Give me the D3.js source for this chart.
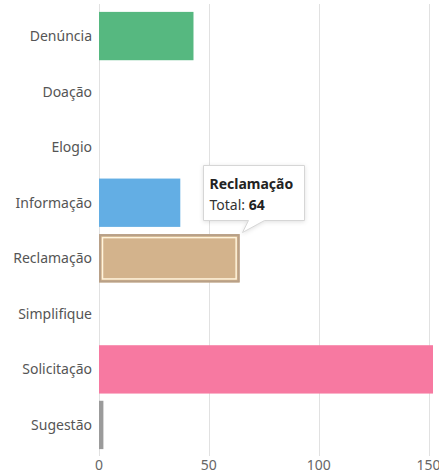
<!DOCTYPE html>
<meta charset="utf-8">
<style>
  body { margin: 0; background: #fff; font-family: "Noto Sans", "Open Sans", sans-serif; }
</style>
<div id="chart"></div>
<script src="https://d3js.org/d3.v7.min.js"></script>
<script>
// categories and totals
var categories = ["Denúncia", "Doação", "Elogio", "Informação", "Reclamação", "Simplifique", "Solicitação", "Sugestão"];
var totals = [43, 0, 0, 37, 64, 0, 152, 2];
var colors = ["#56b880", "#999999", "#999999", "#63aee4", "#d3b38c", "#999999", "#f779a1", "#9b9b9b"];
var xTicks = [0, 50, 100, 150];
var hovered = "Reclamação";

var width = 439, height = 474;
var plotLeft = 99, plotRight = 433, plotTop = 8, plotBottom = 453;

var svg = d3.select("#chart").append("svg")
  .attr("width", width)
  .attr("height", height);

var x = d3.scaleLinear().domain([0, 152]).range([plotLeft, plotRight]);
var y = d3.scaleBand().domain(categories).range([plotTop, plotBottom]).paddingInner(0.13).paddingOuter(0.07);

// grid lines
svg.selectAll("line.grid").data(xTicks).enter().append("line")
  .attr("class", "grid")
  .attr("x1", function(d) { return Math.round(x(d)) + 0.5; })
  .attr("x2", function(d) { return Math.round(x(d)) + 0.5; })
  .attr("y1", 4).attr("y2", 456)
  .style("stroke", "#e1e1e1").style("stroke-width", 1);

// x tick labels
svg.selectAll("text.xt").data(xTicks).enter().append("text")
  .attr("x", function(d) { return x(d); })
  .attr("y", 470)
  .attr("text-anchor", "middle")
  .style("font-size", "14px").style("fill", "#666")
  .text(function(d) { return d; });

// category labels
svg.selectAll("text.cat").data(categories).enter().append("text")
  .attr("x", 92)
  .attr("y", function(d) { return y(d) + y.bandwidth() / 2 + 5; })
  .attr("text-anchor", "end")
  .style("font-size", "14px").style("fill", "#555")
  .text(function(d) { return d; });

var data = categories.map(function(c, i) { return { name: c, total: totals[i], color: colors[i] }; });

// bars
svg.selectAll("rect.bar").data(data.filter(function(d) { return d.total > 0; })).enter().append("rect")
  .attr("class", "bar")
  .attr("x", x(0))
  .attr("y", function(d) { return y(d.name); })
  .attr("width", function(d) { return x(d.total) - x(0); })
  .attr("height", y.bandwidth())
  .style("fill", function(d) { return d.color; });

// hovered bar highlight
var hb = data[categories.indexOf(hovered)];
svg.append("rect")
  .attr("x", x(0) + 1).attr("y", y(hb.name) + 1)
  .attr("width", x(hb.total) - x(0) - 2).attr("height", y.bandwidth() - 2)
  .style("fill", "none").style("stroke", "#b8a088").style("stroke-width", 2);
svg.append("rect")
  .attr("x", x(0) + 3.5).attr("y", y(hb.name) + 3.5)
  .attr("width", x(hb.total) - x(0) - 7).attr("height", y.bandwidth() - 7)
  .style("fill", "none").style("stroke", "#fff4dc").style("stroke-width", 1.5);

// tooltip
var tx = 203.5, ty = 165.5, tw = 101, th = 55;
var tip = svg.append("g");
tip.append("path")
  .attr("d", "M" + tx + "," + ty + "h" + tw + "v" + th + "h-40l-22,12l6,-12h-" + (tw - 56) + "z")
  .style("fill", "#fff").style("stroke", "#d6d6d6").style("stroke-width", 1)
  .style("filter", "drop-shadow(0 1px 2px rgba(0,0,0,0.12))");
tip.append("text")
  .attr("x", tx + 6).attr("y", ty + 23)
  .style("font-size", "14px").style("font-weight", "bold").style("fill", "#222")
  .text(hb.name);
var t2 = tip.append("text")
  .attr("x", tx + 6).attr("y", ty + 44)
  .style("font-size", "14px").style("fill", "#333");
t2.append("tspan").text("Total: ");
t2.append("tspan").style("font-weight", "bold").style("fill", "#222").text(hb.total);
</script>
